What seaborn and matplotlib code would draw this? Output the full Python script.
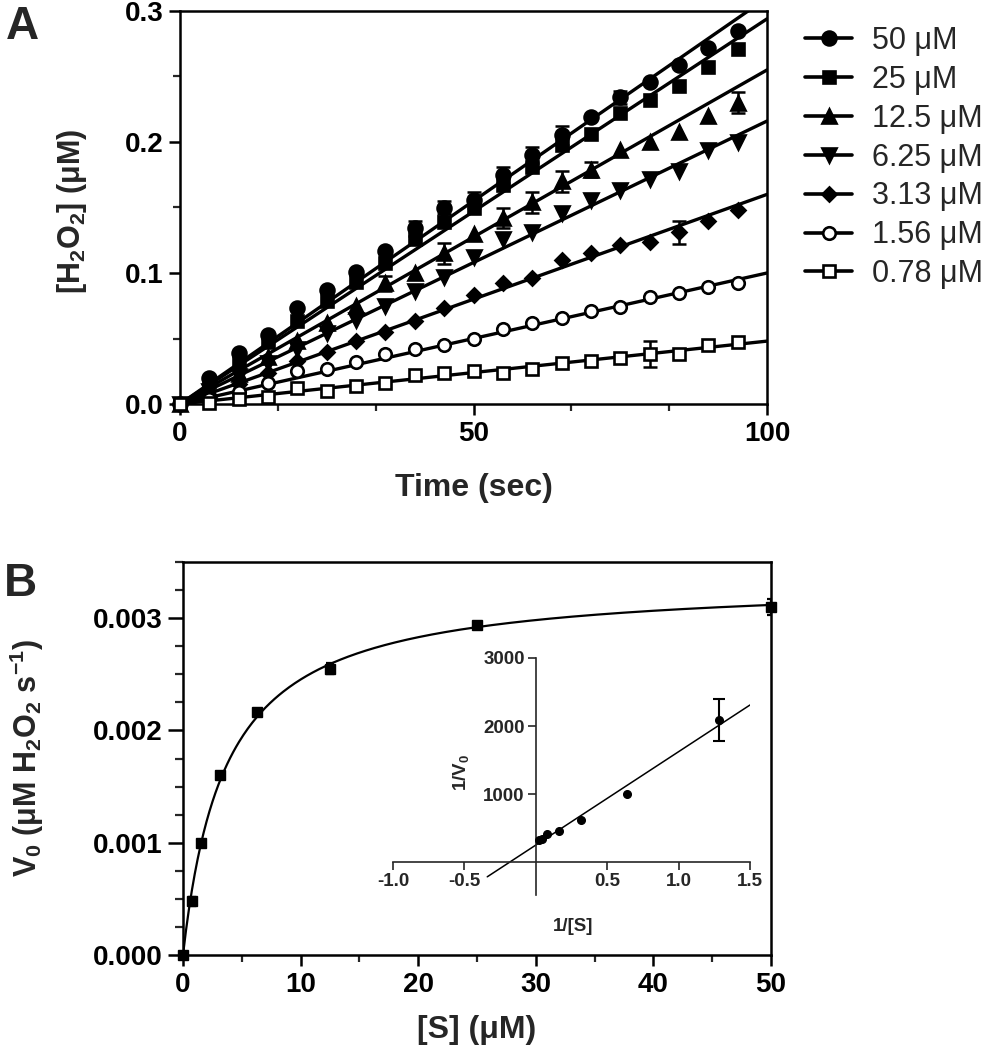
import numpy as np
import matplotlib
matplotlib.use('Agg')
import matplotlib.pyplot as plt
import seaborn as sns
from matplotlib.lines import Line2D
from matplotlib.ticker import MultipleLocator, FormatStrFormatter

sns.set_style('ticks')
plt.rcParams['font.family'] = ['Liberation Sans', 'DejaVu Sans']
plt.rcParams['font.weight'] = 'bold'
plt.rcParams['mathtext.default'] = 'regular'

# ---- panel A: H2O2 produced vs time, one series per substrate conc ----
time_s = [0, 5, 10, 15, 20, 25, 30, 35, 40, 45, 50, 55, 60, 65, 70, 75, 80, 85, 90, 95]
conc_labels = ['50 μM', '25 μM', '12.5 μM', '6.25 μM', '3.13 μM', '1.56 μM', '0.78 μM']
h2o2_50 = [0, 0.020, 0.039, 0.053, 0.073, 0.087, 0.101, 0.117, 0.134, 0.150,
           0.156, 0.175, 0.190, 0.205, 0.219, 0.234, 0.246, 0.259, 0.272, 0.285]
h2o2_25 = [0, 0.017, 0.032, 0.047, 0.063, 0.079, 0.093, 0.108, 0.126, 0.139,
           0.150, 0.167, 0.181, 0.198, 0.206, 0.222, 0.232, 0.243, 0.257, 0.271]
h2o2_12 = [0, 0.011, 0.023, 0.036, 0.048, 0.062, 0.075, 0.092, 0.100, 0.115,
           0.130, 0.142, 0.154, 0.170, 0.179, 0.194, 0.200, 0.208, 0.220, 0.230]
h2o2_6 = [0, 0.010, 0.021, 0.031, 0.042, 0.054, 0.064, 0.075, 0.086, 0.097,
          0.112, 0.126, 0.131, 0.146, 0.156, 0.163, 0.172, 0.178, 0.194, 0.200]
h2o2_3 = [0, 0.007, 0.015, 0.024, 0.033, 0.040, 0.048, 0.055, 0.063, 0.073,
          0.083, 0.092, 0.096, 0.110, 0.115, 0.121, 0.124, 0.131, 0.140, 0.148]
h2o2_1 = [0, 0.004, 0.009, 0.016, 0.025, 0.027, 0.032, 0.038, 0.042, 0.045,
          0.050, 0.057, 0.062, 0.066, 0.071, 0.074, 0.082, 0.085, 0.089, 0.092]
h2o2_07 = [0, 0.001, 0.004, 0.005, 0.012, 0.010, 0.014, 0.016, 0.022, 0.024,
           0.025, 0.024, 0.027, 0.031, 0.033, 0.035, 0.038, 0.038, 0.045, 0.047]

err_50 = [0, 0, 0, 0, 0, 0, 0, 0, 0.006, 0.005, 0.006, 0.006, 0.006, 0.007, 0, 0.005, 0, 0, 0, 0]
err_12 = [0, 0, 0, 0, 0, 0, 0, 0.006, 0, 0.008, 0, 0.008, 0.008, 0.008, 0.006, 0, 0, 0, 0, 0.008]
err_3 = [0, 0, 0, 0, 0, 0, 0, 0, 0, 0, 0, 0, 0, 0, 0, 0, 0, 0.0085, 0, 0]
err_07 = [0, 0, 0, 0, 0, 0, 0, 0, 0, 0, 0, 0, 0, 0, 0, 0, 0.010, 0, 0, 0]
zeros = [0] * 20

# ---- panel B: initial rate vs substrate ----
s_conc = [0, 0.78, 1.56, 3.13, 6.25, 12.5, 25, 50]
v0 = [0, 0.00048, 0.00100, 0.00160, 0.00216, 0.00255, 0.00294, 0.00310]
v0_err = [0, 0.00004, 0, 0, 0, 0.00005, 0, 0.00007]

# inset: Lineweaver-Burk
inv_s = [0.02, 0.04, 0.08, 0.16, 0.32, 0.64, 1.28]
inv_v = [320, 345, 405, 460, 618, 1000, 2085]
inv_v_err = [0, 0, 0, 0, 0, 0, 310]

series = [h2o2_50, h2o2_25, h2o2_12, h2o2_6, h2o2_3, h2o2_1, h2o2_07]
errs = [err_50, zeros, err_12, zeros, err_3, zeros, err_07]
slopes = v0[::-1][:7]   # fitted rates, 50 uM first
markers = ['o', 's', '^', 'v', 'D', 'o', 's']
msizes = [10, 9, 10.5, 10.5, 7.5, 9, 9]
mfaces = ['black'] * 5 + ['white', 'white']

fig = plt.figure(figsize=(9.89, 10.5), dpi=100)
axA = fig.add_axes([180 / 989, 1 - 404 / 1050, 587 / 989, 393 / 1050])
axB = fig.add_axes([183 / 989, 1 - 955 / 1050, 588 / 989, 393 / 1050])
axI = fig.add_axes([393 / 989, 1 - 895 / 1050, 357 / 989, 237 / 1050])

# panel A
axA.set_xlim(0, 100)
axA.set_ylim(0, 0.3)
t_line = np.array([0, 100])
handles = []
for y, e, k, m, ms, fc in zip(series, errs, slopes, markers, msizes, mfaces):
    sns.lineplot(x=t_line, y=k * t_line, ax=axA, color='black', lw=2.4, zorder=2)
    e = np.array(e)
    t = np.array(time_s)
    yy = np.array(y)
    has = e > 0
    axA.errorbar(t[has], yy[has], yerr=e[has], fmt='none', ecolor='black',
                 elinewidth=1.8, capsize=5, capthick=1.8, zorder=3)
    axA.plot(t, yy, ls='none', marker=m, ms=ms, mfc=fc, mec='black', mew=1.9,
             zorder=4, clip_on=False)
    handles.append(Line2D([], [], color='black', lw=2.6, marker=m, ms=ms,
                          mfc=fc, mec='black', mew=1.9))

axA.xaxis.set_major_locator(MultipleLocator(50))
axA.xaxis.set_minor_locator(MultipleLocator(50 / 3))
axA.yaxis.set_major_locator(MultipleLocator(0.1))
axA.yaxis.set_minor_locator(MultipleLocator(0.05))
axA.yaxis.set_major_formatter(FormatStrFormatter('%.1f'))
axA.set_xlabel('Time (sec)', fontsize=23, fontweight='bold')
axA.set_ylabel('[H$_2$O$_2$] (μM)', fontsize=22, fontweight='bold')
axA.xaxis.set_label_coords(0.5, -0.215)
axA.xaxis.label.set_va('center')
axA.yaxis.set_label_coords(-0.184, 0.49)
axA.yaxis.label.set_va('center')

fig.legend(handles, conc_labels, loc='upper left',
           bbox_to_anchor=(805 / 989, 1 - 26 / 1050), frameon=False,
           prop={'size': 22, 'weight': 'normal'}, handlelength=1.55,
           handletextpad=0.65, labelspacing=0.29, borderpad=0, borderaxespad=0)

# panel B: Michaelis-Menten fit (least squares over Km grid)
S = np.array(s_conc)
V = np.array(v0)
best = None
for km in np.linspace(0.5, 10, 951):
    f = S / (km + S)
    vmax = (f * V).sum() / (f * f).sum()
    r = ((V - vmax * f) ** 2).sum()
    if best is None or r < best[0]:
        best = (r, km, vmax)
_, km, vmax = best
s_fit = np.linspace(0, 50, 400)
sns.lineplot(x=s_fit, y=vmax * s_fit / (km + s_fit), ax=axB, color='black', lw=1.6)
e = np.array(v0_err)
has = e > 0
axB.errorbar(S[has], V[has], yerr=e[has], fmt='none', ecolor='black',
             elinewidth=1.6, capsize=3, capthick=1.6)
axB.plot(S, V, ls='none', marker='s', ms=6.5, color='black', clip_on=False, zorder=4)
axB.set_xlim(0, 50)
axB.set_ylim(0, 0.0035)
axB.xaxis.set_major_locator(MultipleLocator(10))
axB.xaxis.set_minor_locator(MultipleLocator(5))
axB.yaxis.set_major_locator(MultipleLocator(0.001))
axB.yaxis.set_minor_locator(MultipleLocator(0.00025))
axB.yaxis.set_major_formatter(FormatStrFormatter('%.3f'))
axB.set_xlabel('[S] (μM)', fontsize=23, fontweight='bold')
axB.set_ylabel('V$_0$ (μM H$_2$O$_2$ s$^{-1}$)', fontsize=22, fontweight='bold')
axB.xaxis.set_label_coords(0.5, -0.19)
axB.xaxis.label.set_va('center')
axB.yaxis.set_label_coords(-0.265, 0.5)
axB.yaxis.label.set_va('center')

for ax in (axA, axB):
    for sp in ax.spines.values():
        sp.set_linewidth(1.8)
        sp.set_color('black')
    ax.tick_params(which='major', length=8, width=1.8, labelsize=20, pad=4,
                   direction='out', colors='black')
    ax.tick_params(which='minor', length=5, width=1.6, direction='out')
axB.tick_params(axis='y', which='major', length=11)
axB.tick_params(axis='y', which='minor', length=6)

# inset
axI.set_facecolor('none')
axI.set_xlim(-1.0, 1.5)
axI.set_ylim(-485, 3000)
a, b = np.polyfit(inv_s, inv_v, 1)
x_fit = np.array([-0.34, 1.5])
sns.lineplot(x=x_fit, y=a * x_fit + b, ax=axI, color='black', lw=1.1)
ie = np.array(inv_v_err)
has = ie > 0
axI.errorbar(np.array(inv_s)[has], np.array(inv_v)[has], yerr=ie[has], fmt='none',
             ecolor='black', elinewidth=1.5, capsize=4, capthick=1.5)
axI.plot(inv_s, inv_v, ls='none', marker='o', ms=5.5, color='black', zorder=4)
axI.spines['left'].set_position(('data', 0))
axI.spines['bottom'].set_position(('data', 0))
axI.spines['top'].set_visible(False)
axI.spines['right'].set_visible(False)
for sp in ('left', 'bottom'):
    axI.spines[sp].set_linewidth(1.2)
axI.set_xticks([-1.0, -0.5, 0.5, 1.0, 1.5])
axI.set_yticks([1000, 2000, 3000])
axI.xaxis.set_major_formatter(FormatStrFormatter('%.1f'))
axI.tick_params(length=6, width=1.2, labelsize=13.5, direction='out', pad=2)
axI.set_xlabel('1/[S]', fontsize=13.5, fontweight='bold')
axI.set_ylabel('1/$V_0$', fontsize=13.5, fontweight='bold')
axI.xaxis.set_label_coords(0.505, -0.135)
axI.xaxis.label.set_va('center')
axI.yaxis.set_label_coords(0.19, 0.515)
axI.yaxis.label.set_va('center')

fig.text(22 / 989, 1 - 27 / 1050, 'A', fontsize=33, fontweight='bold', ha='center', va='center')
fig.text(20 / 989, 1 - 584 / 1050, 'B', fontsize=33, fontweight='bold', ha='center', va='center')

fig.savefig('out.png', dpi=100)
